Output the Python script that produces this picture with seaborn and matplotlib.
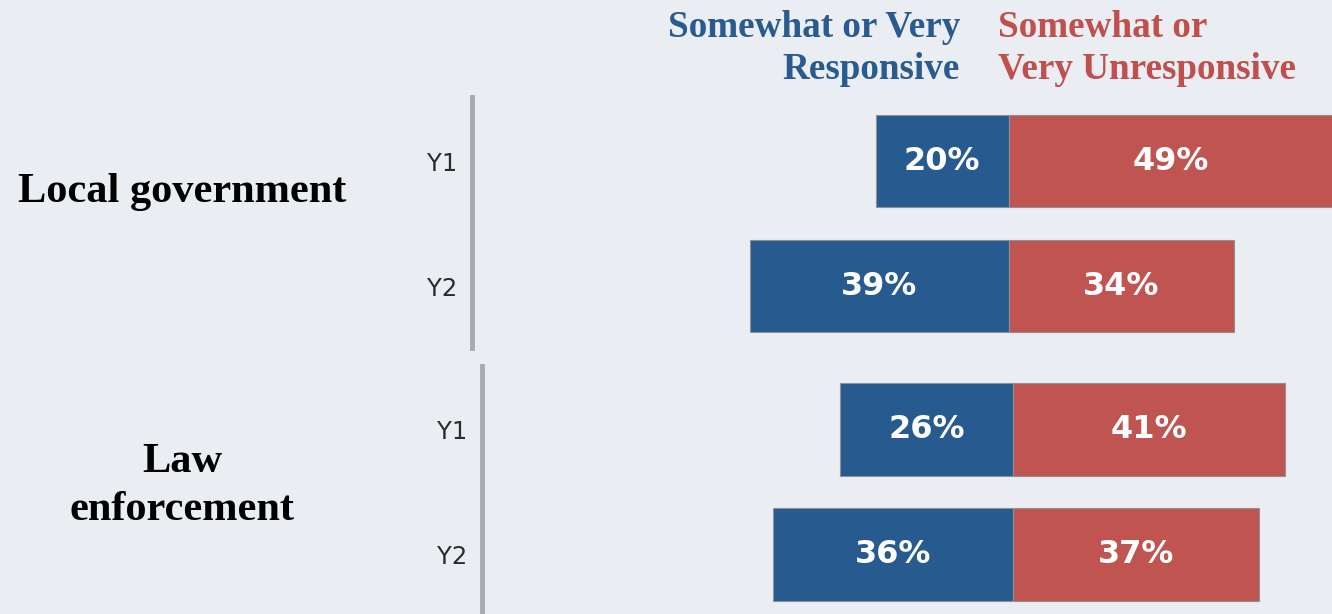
"""
Diverging bar chart: responsiveness of local government and law enforcement, Y1 vs Y2.
"""

import matplotlib
matplotlib.use("Agg")
import matplotlib.pyplot as plt
import pandas as pd
import seaborn as sns

# Survey results (percent)
groups = ["Local government", "Law enforcement"]
group_labels = ["Local government", "Law\nenforcement"]
years = ["Y1", "Y2"]
responsive = [[20, 39], [26, 36]]
unresponsive = [[49, 34], [41, 37]]

BLUE = "#275A8E"
RED = "#BF5451"
BG = "#EAEEF3"
SPINE = "#A8AAAD"

# Build long table from the lists
rows = []
for g, resp, unresp in zip(groups, responsive, unresponsive):
    for yr, r, u in zip(years, resp, unresp):
        rows.append({"group": g, "year": yr, "responsive": r, "unresponsive": u})
df = pd.DataFrame(rows)
df["responsive_neg"] = -df["responsive"]

sns.set_theme(style="white")
plt.rcParams["font.family"] = ["DejaVu Sans"]

fig = plt.figure(figsize=(13.32, 6.14), dpi=100, facecolor=BG)

# axes rect, xlim, ylim for each panel
panels = [
    ([0.3544, 0.4332, 0.6456, 0.4088], (-80.8, 48.7), (1.496, -0.512)),
    ([0.3619, 0.0, 0.6381, 0.4039], (-79.8, 48.0), (1.476, -0.508)),
]

for g, (rect, xlim, ylim) in zip(groups, panels):
    ax = fig.add_axes(rect)
    ax.set_facecolor("none")
    sub = df[df["group"] == g]

    sns.barplot(data=sub, x="responsive_neg", y="year", orient="h",
                color=BLUE, saturation=1, width=0.74, errorbar=None,
                edgecolor="#8e9196", linewidth=0.8, ax=ax)
    sns.barplot(data=sub, x="unresponsive", y="year", orient="h",
                color=RED, saturation=1, width=0.74, errorbar=None,
                edgecolor="#8e9196", linewidth=0.8, ax=ax)

    ax.bar_label(ax.containers[0], labels=[f"{v}%" for v in sub["responsive"]],
                 label_type="center", color="white", fontweight="bold", fontsize=23)
    ax.bar_label(ax.containers[1], labels=[f"{v}%" for v in sub["unresponsive"]],
                 label_type="center", color="white", fontweight="bold", fontsize=23)

    ax.set_xlim(*xlim)
    ax.set_ylim(*ylim)
    ax.set_xticks([])
    ax.set_xlabel("")
    ax.set_ylabel("")
    ax.tick_params(axis="y", length=0, pad=11, labelsize=17.5, labelcolor="#2b2b2b")

    sns.despine(ax=ax, top=True, right=True, bottom=True, left=False)
    ax.spines["left"].set_color(SPINE)
    ax.spines["left"].set_linewidth(3.5)

# Column headers (baseline refers to the last line)
serif = ["Liberation Serif", "DejaVu Serif"]
fig.text(0.7207, 0.8713, "Somewhat or Very\nResponsive", ha="right", va="baseline",
         multialignment="right", color="#2A5B8F", fontsize=26.7, fontweight="bold",
         family=serif, linespacing=1.25)
fig.text(0.7492, 0.8713, "Somewhat or\nVery Unresponsive", ha="left", va="baseline",
         multialignment="left", color="#C0504D", fontsize=26.7, fontweight="bold",
         family=serif, linespacing=1.25)

# Group labels
fig.text(0.1366, 0.671, group_labels[0], ha="center", va="baseline",
         fontsize=30.5, fontweight="bold", family=serif, color="black")
fig.text(0.1366, 0.153, group_labels[1], ha="center", va="baseline",
         multialignment="center", fontsize=30.5, fontweight="bold", family=serif,
         color="black", linespacing=1.35)

plt.savefig("out.png", dpi=100, facecolor=BG)
plt.close()
